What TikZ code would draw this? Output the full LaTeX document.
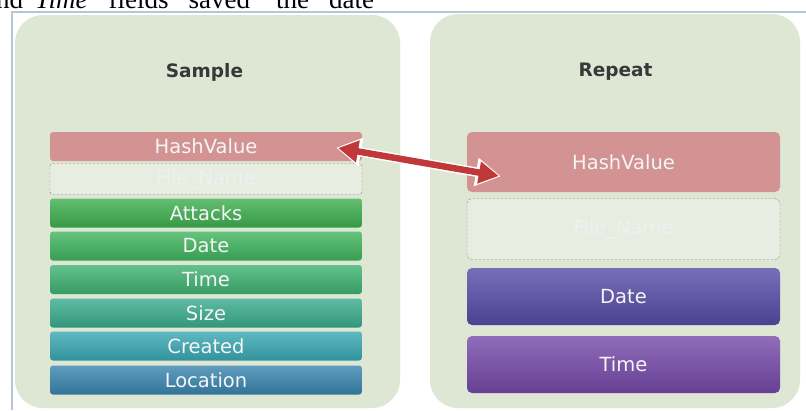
\documentclass[tikz,border=0pt]{standalone}
\usepackage{fontspec}
\setmainfont{Liberation Serif}
\newfontfamily\barfont{DejaVu Sans}
\usepackage{tikz}
\usetikzlibrary{arrows.meta}

\definecolor{framec}{HTML}{B9C4D6}
\definecolor{panelbg}{HTML}{DEE6D4}
\definecolor{hashc}{HTML}{D39393}
\definecolor{attackc}{HTML}{3DAE4E}
\definecolor{datec}{HTML}{3EB35C}
\definecolor{timec}{HTML}{3DB170}
\definecolor{sizec}{HTML}{38AA8C}
\definecolor{createdc}{HTML}{38A6B2}
\definecolor{locc}{HTML}{3884AE}
\definecolor{rdatec}{HTML}{564AA6}
\definecolor{rtimec}{HTML}{7548A8}
\definecolor{arrowc}{HTML}{C0383A}

\begin{document}
\begin{tikzpicture}[x=1pt,y=-1pt,
    panel/.style={fill=panelbg,rounded corners=28pt},
    title/.style={font=\barfont\bfseries\fontsize{18.5}{20}\selectfont,text=black!78},
    field/.style={rounded corners=3pt,inner sep=0pt,minimum width=312pt,minimum height=29pt,
        text=white!96!black,font=\barfont\fontsize{19.5}{21}\selectfont},
    bigfield/.style={field,rounded corners=5pt,minimum width=313pt,minimum height=57pt},
    shade/.style={top color=#1!80!white,bottom color=#1!88!black},
    ghost/.style={draw=black!45,dash pattern=on 2.5pt off 1.5pt,fill=panelbg!70!white,text=white!94!black}]
\clip (0,0) rectangle (806,410);
\useasboundingbox (0,0) rectangle (806,410);
\fill[white] (0,0) rectangle (806,410);

% caption line cut off at the top
\node[anchor=base west,inner sep=0pt,font=\fontsize{27}{30}\selectfont] (cap) at (-4,8.5)
    {nd\hspace{12pt}\textit{Time}\hspace{21pt}fields\hspace{20pt}saved\hspace{26pt}the\hspace{20pt}date};

% frame
\draw[framec,line width=1.2pt] (12,410) -- (12,12) -- (806,12);

% the two panels
\fill[panel] (15,15) rectangle (400,408);
\fill[panel] (430,14) rectangle (800,408);
\node[title] (sample) at (204.5,72) {Sample};
\node[title] (repeat) at (615.5,72) {Repeat};

% Sample fields
\node[field,fill=hashc] (shash) at (206,146.5) {HashValue};
\node[field,ghost,minimum height=31pt] (sfile) at (206,179) {File\_Name};
\node[field,shade=attackc] (sattacks) at (206,213) {Attacks};
\node[field,shade=datec] (sdate) at (206,246) {Date};
\node[field,shade=timec] (stime) at (206,279.5) {Time};
\node[field,shade=sizec] (ssize) at (206,313) {Size};
\node[field,shade=createdc] (screated) at (206,346) {Created};
\node[field,shade=locc] (slocation) at (206,380) {Location};

% Repeat fields
\node[bigfield,fill=hashc,minimum height=60pt] (rhash) at (623.5,162) {HashValue};
\node[bigfield,ghost,minimum height=61pt] (rfile) at (623.5,229) {File\_Name};
\node[bigfield,shade=rdatec] (rdate) at (623.5,296.5) {Date};
\node[bigfield,shade=rtimec] (rtime) at (623.5,364.5) {Time};

% link between the hash values
\coordinate (atip) at ([xshift=-24pt,yshift=-1.5pt]shash.east);
\coordinate (btip) at ([xshift=32pt,yshift=-14pt]rhash.west);
\draw[white,line width=9.5pt,shorten <=-2pt,shorten >=-2pt,
    {Triangle[length=25pt,width=27pt]}-{Triangle[length=25pt,width=27pt]}] (atip) -- (btip);
\draw[arrowc,line width=6.5pt,
    {Triangle[length=20pt,width=21pt]}-{Triangle[length=20pt,width=21pt]}] (atip) -- (btip);
\end{tikzpicture}
\end{document}
